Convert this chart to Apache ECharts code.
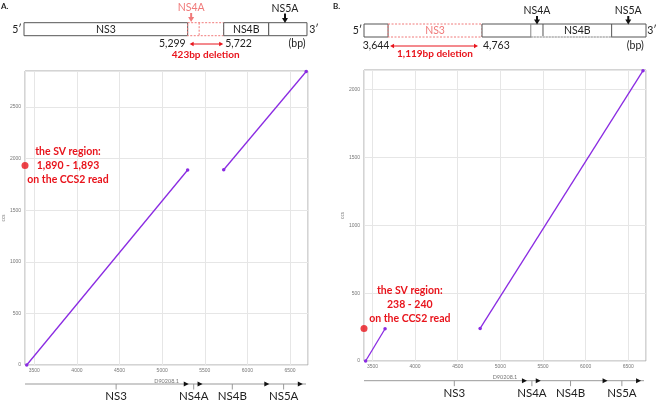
<!DOCTYPE html>
<html><head><meta charset="utf-8">
<script src="https://cdn.jsdelivr.net/npm/echarts@6/dist/echarts.min.js"></script>
<style>html,body{margin:0;padding:0;background:#fff}#c{width:658px;height:400px}</style>
</head><body><div id="c"></div>
<script>
// ---- data ----
const alignA1 = [[3411, 0], [5299, 1890]];
const alignA2 = [[5722, 1893], [6690, 2845]];
const alignB1 = [[3420, 0], [3648, 238]];
const alignB2 = [[4763, 240], [6673, 2140]];
const svPointA = [[3391, 1935]];
const svPointB = [[3401, 240]];
const svTextA = ['the SV region:', '1,890 - 1,893', 'on the CCS2 read'];
const svTextB = ['the SV region:', '238 - 240', 'on the CCS2 read'];
const geneNames = ['NS3', 'NS4A', 'NS4B', 'NS5A'];
const geneEnds = [5312, 5474, 6257, 6650];
const geneLabelPos = [4460, 5370, 5823, 6425];
const xRangeA = [3391, 6711], yRangeA = [0, 2850];
const xRangeB = [3401, 6708], yRangeB = [0, 2145];
const diagA = {bounds: [3379, 5299, 5722, 6250, 6699], delDivider: 5434, ns4aArrow: 5340, ns5aArrow: 6441};
const diagB = {bounds: [3401, 3683, 4785, 6708], dividers: [5357, 5500, 6305], ns4aArrow: 5430, ns5aArrow: 6500};
const delLabelA = ['5,299', '5,722', '423bp deletion'];
const delLabelB = ['3,644', '4,763', '1,119bp deletion'];

const FONT = 'Lato, "Noto Sans", sans-serif';
const RED = '#e8141c', PINK = '#f07a7a', PURPLE = '#8a2be2';

const chart = echarts.init(document.getElementById('c'), null, {renderer: 'canvas'});

function xAxisCfg(gi, r) {
  return {
    type: 'value', gridIndex: gi, min: r[0], max: r[1], minInterval: 500, maxInterval: 500,
    name: 'D90208.1', nameLocation: 'middle', nameGap: 11,
    nameTextStyle: {fontSize: 5.5, color: '#777', fontFamily: FONT},
    axisLine: {show: false}, axisTick: {show: false},
    axisLabel: {fontSize: 5, color: '#777', margin: 3, showMinLabel: false, showMaxLabel: false,
      formatter: v => String(v)},
    splitLine: {lineStyle: {color: '#e6e6e6', width: 1}}
  };
}
function yAxisCfg(gi, r) {
  return {
    type: 'value', gridIndex: gi, min: r[0], max: r[1], minInterval: 500, maxInterval: 500,
    name: 'ccs', nameLocation: 'middle', nameGap: 19,
    nameTextStyle: {fontSize: 5, color: '#777', fontFamily: FONT},
    axisLine: {show: false}, axisTick: {show: false},
    axisLabel: {fontSize: 5, color: '#777', margin: 4, showMaxLabel: false, formatter: v => String(v)},
    splitLine: {lineStyle: {color: '#e6e6e6', width: 1}}
  };
}
function lineSeries(gi, d) {
  return {type: 'line', xAxisIndex: gi, yAxisIndex: gi, data: d, symbol: 'circle', symbolSize: 3.5,
    showSymbol: true, silent: true, animation: false,
    lineStyle: {color: PURPLE, width: 1.3}, itemStyle: {color: PURPLE}};
}
function dotSeries(gi, d) {
  return {type: 'scatter', xAxisIndex: gi, yAxisIndex: gi, data: d, symbolSize: 7, clip: false,
    itemStyle: {color: RED}, animation: false, z: 5};
}

chart.setOption({
  animation: false,
  grid: [
    {left: 25, top: 71, width: 283, height: 294, show: true, borderColor: '#a8a8a8', borderWidth: 1},
    {left: 364, top: 70, width: 282, height: 291, show: true, borderColor: '#a8a8a8', borderWidth: 1}
  ],
  xAxis: [xAxisCfg(0, xRangeA), xAxisCfg(1, xRangeB)],
  yAxis: [yAxisCfg(0, yRangeA), yAxisCfg(1, yRangeB)],
  series: [lineSeries(0, alignA1), lineSeries(0, alignA2), dotSeries(0, svPointA),
           lineSeries(1, alignB1), lineSeries(1, alignB2), dotSeries(1, svPointB)]
});

function X(gi, v) { return chart.convertToPixel({xAxisIndex: gi}, v); }
function P(gi, x, y) { return chart.convertToPixel({gridIndex: gi}, [x, y]); }

const g = [];
function rect(x0, x1, y, h, stroke, dash, fill) {
  g.push({type: 'rect', shape: {x: x0, y: y, width: x1 - x0, height: h},
    style: {fill: fill || '#fff', stroke: stroke, lineWidth: 1, lineDash: dash || null}, z: 10});
}
function line(x0, y0, x1, y1, stroke, w, dash, z) {
  g.push({type: 'line', shape: {x1: x0, y1: y0, x2: x1, y2: y1},
    style: {stroke: stroke, lineWidth: w || 1, lineDash: dash || null}, z: z || 11});
}
function poly(pts, fill) {
  g.push({type: 'polygon', shape: {points: pts}, style: {fill: fill}, z: 12});
}
function text(t, x, y, opt) {
  opt = opt || {};
  g.push({type: 'text', x: x, y: y, z: 13, style: {text: t, fill: opt.color || '#222',
    font: (opt.weight || 'normal') + ' ' + (opt.size || 10) + 'px ' + FONT,
    align: opt.align || 'center', verticalAlign: opt.va || 'middle', lineHeight: opt.lh}});
}
function downArrow(x, y0, y1, color) {
  line(x, y0, x, y1 - 4, color, 2);
  poly([[x - 3, y1 - 5], [x + 3, y1 - 5], [x, y1]], color);
}
function dblArrow(x0, x1, y, color) {
  line(x0 + 3, y, x1 - 3, y, color, 1);
  poly([[x0, y], [x0 + 4, y - 2.2], [x0 + 4, y + 2.2]], color);
  poly([[x1, y], [x1 - 4, y - 2.2], [x1 - 4, y + 2.2]], color);
}

const BOX = '#555';
// ---- panel labels ----
text('A.', 1, 6, {align: 'left', weight: 'bold', size: 8});
text('B.', 333, 6, {align: 'left', weight: 'bold', size: 8});

// ---- diagram A ----
(function () {
  const b = diagA.bounds.map(v => X(0, v));
  const top = 22.7, h = 13, my = top + h / 2;
  rect(b[0], b[1], top, h, BOX);
  rect(b[1], b[2], top, h, PINK, [2, 1.5], 'rgba(255,255,255,0)');
  line(X(0, diagA.delDivider), top, X(0, diagA.delDivider), top + h, PINK, 1, [2, 1.5]);
  rect(b[2], b[3], top, h, BOX);
  rect(b[3], b[4], top, h, BOX);
  text('NS3', (b[0] + b[1]) / 2, my, {size: 10.5});
  text('NS4B', (b[2] + b[3]) / 2, my, {size: 10.5});
  text('5\u2032', b[0] - 7, my, {size: 10.5});
  text('3\u2032', b[4] + 7, my, {size: 10.5});
  const a4 = X(0, diagA.ns4aArrow), a5 = X(0, diagA.ns5aArrow);
  text('NS4A', a4, 7.5, {color: PINK, size: 10.5});
  downArrow(a4, 13, 22, PINK);
  text('NS5A', a5, 8.5, {size: 10.5});
  downArrow(a5, 13.5, 23, '#111');
  text(delLabelA[0], b[1] - 2, 44, {align: 'right', size: 10.5});
  text(delLabelA[1], b[2] + 1.5, 44, {align: 'left', size: 10.5});
  dblArrow(b[1] + 2, b[2] - 0.5, 44, RED);
  text(delLabelA[2], (b[1] + b[2]) / 2, 54.5, {color: RED, weight: 'bold', size: 10});
  text('(bp)', X(0, 6582), 44, {size: 10.5});
})();

// ---- diagram B ----
(function () {
  const b = diagB.bounds.map(v => X(1, v));
  const top = 24, h = 13, my = top + h / 2;
  rect(b[0], b[1], top, h, BOX);
  rect(b[1], b[2], top, h, PINK, [2, 1.5], 'rgba(255,255,255,0)');
  rect(b[2], b[3], top, h, BOX);
  const d = diagB.dividers.map(v => X(1, v));
  line(d[0], top, d[0], top + h, '#888', 1);
  line(d[1], top, d[1], top + h, BOX, 1);
  line(d[2], top, d[2], top + h, BOX, 1);
  line(d[0] + 0.5, top + h, d[2] - 0.5, top + h, '#fff', 1.5, null, 12);
  line(d[0], top + h, d[2], top + h, '#999', 1, [2, 1], 13);
  text('NS3', (b[1] + b[2]) / 2, my, {color: PINK, size: 10.5});
  text('NS4B', (d[1] + d[2]) / 2, my, {size: 10.5});
  text('5\u2032', b[0] - 6.5, my, {size: 10.5});
  text('3\u2032', b[3] + 6, my, {size: 10.5});
  const a4 = X(1, diagB.ns4aArrow), a5 = X(1, diagB.ns5aArrow);
  text('NS4A', a4, 10.5, {size: 10.5});
  downArrow(a4, 16, 24.5, '#111');
  text('NS5A', a5, 10.5, {size: 10.5});
  downArrow(a5, 16, 24.5, '#111');
  text(delLabelB[0], (b[0] + b[1]) / 2, 46, {size: 10.5});
  text(delLabelB[1], b[2] + 1, 46, {align: 'left', size: 10.5});
  dblArrow(b[1] + 2, b[2] - 4, 46, RED);
  text(delLabelB[2], (b[1] + b[2]) / 2, 53.5, {color: RED, weight: 'bold', size: 10});
  text('(bp)', X(1, 6582), 46, {size: 10.5});
})();

// ---- SV annotations ----
(function () {
  const pa = P(0, 3895, 1932);
  text(svTextA.join('\n'), pa[0], pa[1], {color: RED, weight: 'bold', size: 10.5, lh: 13.7});
  const pb = P(1, 3938, 419);
  text(svTextB.join('\n'), pb[0], pb[1], {color: RED, weight: 'bold', size: 10.5, lh: 14});
})();

// ---- gene tracks ----
function track(gi, y, range) {
  const x0 = X(gi, range[0]), x1 = X(gi, range[1]);
  line(x0, y, x1 - 2, y, '#999', 1);
  geneEnds.forEach(e => { const t = X(gi, e); poly([[t - 5, y - 2.5], [t - 5, y + 2.5], [t, y]], '#111'); });
  geneLabelPos.forEach((p, i) => {
    const px = X(gi, p);
    line(px, y, px, y + 5.5, '#999', 1);
    text(geneNames[i], px, y + 12.5, {size: 11.5});
  });
}
track(0, 384, xRangeA);
track(1, 380.7, xRangeB);

chart.setOption({graphic: g});
</script></body></html>
